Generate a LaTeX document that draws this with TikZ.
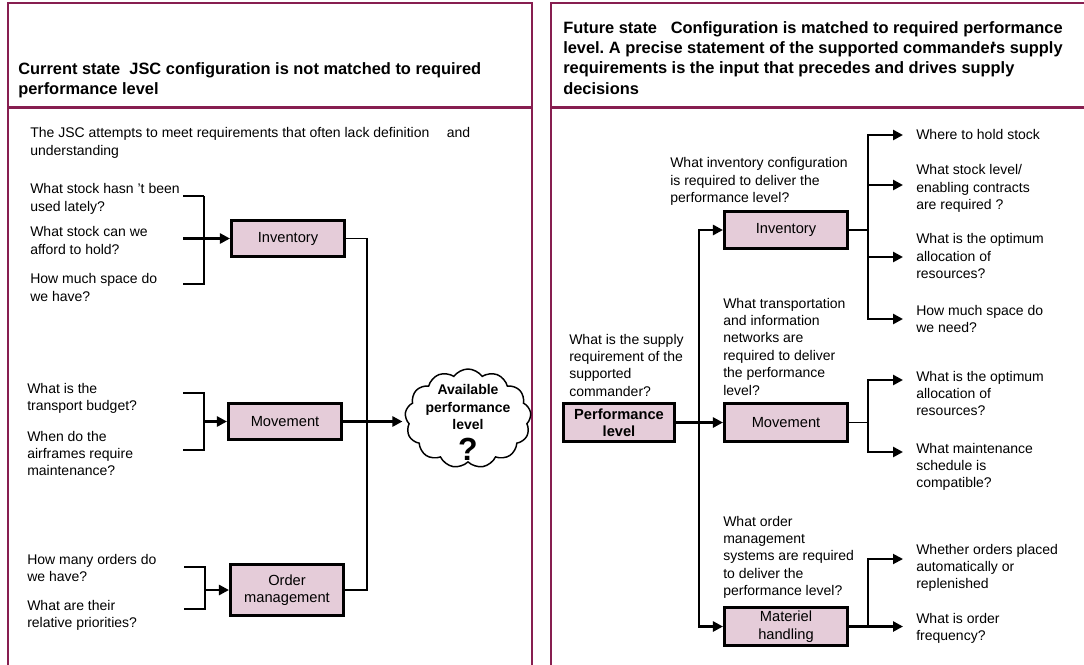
\documentclass[tikz,border=0pt]{standalone}
\usepackage{fontspec}
\setmainfont{Liberation Sans}
\usetikzlibrary{arrows.meta,shapes.symbols}
\definecolor{framecol}{RGB}{135,30,80}
\definecolor{boxfill}{RGB}{229,204,217}
\newcommand\bodyfont{\fontsize{10.5}{13.1}\selectfont}
\newcommand\boxfont{\fontsize{11}{13.1}\selectfont}
\newcommand\titlefont{\fontsize{12.3}{15.2}\selectfont\bfseries}
\frenchspacing
\begin{document}
\begin{tikzpicture}[x=0.75pt,y=-0.75pt,
  panel/.style={draw=framecol,line width=1.6pt},
  txt/.style={anchor=north west,inner sep=0pt,align=left,font=\bodyfont},
  ttl/.style={anchor=north west,inner sep=0pt,align=left,font=\titlefont},
  box/.style={draw=black,line width=2.3pt,fill=boxfill,inner sep=0pt,align=center,font=\boxfont},
  thinline/.style={line width=1.2pt},
  arr/.style={line width=2.1pt,-{Triangle[length=7.5pt,width=7.5pt]}},
]
\useasboundingbox (0,0) rectangle (1084,664);
\clip (0,0) rectangle (1084,664);
% panels
\draw[panel] (8,3) rectangle (532,700);
\draw[panel] (8,107.5) -- (532,107.5);
\draw[panel] (1100,3) -- (551,3) -- (551,700);
\draw[panel] (551,107.5) -- (1100,107.5);
% titles
\node[ttl] (ltitle) at (18,60) {\strut Current state\ \ JSC configuration is not matched to required\\performance level};
\node[ttl] (rtitle) at (563,19) {\strut Future state\ \ \ Configuration is matched to required performance\\level. A precise statement of the supported commande\makebox[0pt][l]{\hspace{1pt}'}rs supply\\requirements is the input that precedes and drives supply\\decisions};
% left texts
\node[txt] (intro) at (30,125.5) {\strut The JSC attempts to meet requirements that often lack definition\hspace{13pt}and\\understanding};
\node[txt] (q1) at (30,181.5) {\strut What stock hasn 't been\\used lately?};
\node[txt] (q2) at (30,224.5) {\strut What stock can we\\afford to hold?};
\node[txt] (q3) at (30,271.5) {\strut How much space do\\we have?};
\node[txt] (q4) at (27,380.5) {\strut What is the\\transport budget?};
\node[txt] (q5) at (27,428.5) {\strut When do the\\airframes require\\maintenance?};
\node[txt] (q6) at (27,551.5) {\strut How many orders do\\we have?};
\node[txt] (q7) at (27,597.5) {\strut What are their\\relative priorities?};
% left boxes
\node[box,minimum width={0.75*113pt},minimum height={0.75*36pt}] (inv) at (288,238.5) {Inventory};
\node[box,minimum width={0.75*113pt},minimum height={0.75*36pt}] (mov) at (285,421.5) {Movement};
\node[box,minimum width={0.75*113pt},minimum height={0.75*51pt}] (ord) at (287,590) {Order\\management};
% cloud
\node[cloud,cloud puffs=13,cloud puff arc=110,cloud ignores aspect,draw,line width=1.1pt,fill=white,
  minimum width={0.75*126pt},minimum height={0.75*99pt},inner sep=0pt] (cloud) at (468,418.5) {};
\node[align=center,inner sep=0pt,font=\fontsize{10.5}{13.1}\selectfont\bfseries] (cloudtxt) at (468,407) {Available\\performance\\level};
\node[inner sep=0pt,font=\fontsize{24}{24}\selectfont\bfseries] (qmark) at (468,449) {?};
% left brackets
\coordinate (b1a) at (183,196); \coordinate (b1b) at (204,196);
\coordinate (b1c) at (204,284); \coordinate (b1d) at (183,284);
\coordinate (b1m) at (183,238.5);
\draw[line width=2pt] (b1a) -- (b1b);
\draw[thinline] (b1b) -- (b1c) -- (b1d);
\draw[arr] (b1m) -- (inv.west);
\coordinate (b2a) at (183,393); \coordinate (b2b) at (204,393);
\coordinate (b2c) at (204,450); \coordinate (b2d) at (183,450);
\coordinate (b2m) at (204,421.5);
\draw[thinline] (b2a) -- (b2b) -- (b2c) -- (b2d);
\draw[arr] (b2m) -- (mov.west);
\coordinate (b3a) at (184,567); \coordinate (b3b) at (205,567);
\coordinate (b3c) at (205,609); \coordinate (b3d) at (184,609);
\coordinate (b3m) at (205,590);
\draw[thinline] (b3a) -- (b3b) -- (b3c) -- (b3d);
\draw[arr] (b3m) -- (ord.west);
% left collector
\coordinate (lvt) at (367,238.5); \coordinate (lvb) at (367,590);
\draw[thinline] (inv.east) -- (lvt) -- (lvb) -- (ord.east);
\coordinate (cin) at (cloud.west |- mov.east);
\draw[arr,shorten >=2pt] (mov.east) -- (cin);
% right texts
\node[txt] (rinvq) at (670,155.5) {\strut What inventory configuration\\is required to deliver the\\performance level?};
\node[txt] (rmovq) at (723,295.5) {\strut What transportation\\and information\\networks are\\required to deliver\\the performance\\level?};
\node[txt] (rsup) at (569,331.5) {\strut What is the supply\\requirement of the\\supported\\commander?};
\node[txt] (rordq) at (723,513.5) {\strut What order\\management\\systems are required\\to deliver the\\performance level?};
\node[txt] (r1) at (916,127.5) {\strut Where to hold stock};
\node[txt] (r2) at (916,162.5) {\strut What stock level/\\enabling contracts\\are required ?};
\node[txt] (r3) at (916,231.5) {\strut What is the optimum\\allocation of\\resources?};
\node[txt] (r4) at (916,302.5) {\strut How much space do\\we need?};
\node[txt] (r5) at (916,368.5) {\strut What is the optimum\\allocation of\\resources?};
\node[txt] (r6) at (916,440.5) {\strut What maintenance\\schedule is\\compatible?};
\node[txt] (r7) at (916,541.5) {\strut Whether orders placed\\automatically or\\replenished};
\node[txt] (r8) at (916,610.5) {\strut What is order\\frequency?};
% right boxes
\node[box,minimum width={0.75*111pt},minimum height={0.75*38pt},font=\boxfont\bfseries] (perf) at (619,422.5) {Performance\\level};
\node[box,minimum width={0.75*123pt},minimum height={0.75*37pt}] (rinv) at (786,230) {Inventory};
\node[box,minimum width={0.75*123pt},minimum height={0.75*38pt}] (rmov) at (786,422.5) {Movement};
\node[box,minimum width={0.75*123pt},minimum height={0.75*38pt}] (rmat) at (786,626.5) {Materiel\\handling};
% trunk
\coordinate (tT) at (699,230); \coordinate (tB) at (699,626.5);
\draw[arr] (tB) |- (rinv.west);
\draw[arr] (tT) |- (rmat.west);
\draw[arr] (perf.east) -- (rmov.west);
% inventory branch
\coordinate (ib) at (868,230);
\coordinate (ia1) at (903,135); \coordinate (ia2) at (903,185);
\coordinate (ia3) at (903,257); \coordinate (ia4) at (903,319);
\draw[thinline] (rinv.east) -- (ib);
\draw[arr] (ib) |- (ia1);
\draw[arr] (ib) |- (ia2);
\draw[arr] (ib) |- (ia3);
\draw[arr] (ib) |- (ia4);
% movement branch
\coordinate (mb) at (868,422.5);
\coordinate (ma1) at (903,380); \coordinate (ma2) at (903,452);
\draw[thinline] (rmov.east) -- (mb);
\draw[arr] (mb) |- (ma1);
\draw[arr] (mb) |- (ma2);
% materiel branch
\coordinate (hb) at (868,626.5);
\coordinate (ha1) at (903,559); \coordinate (ha2) at (903,626.5);
\draw[arr] (rmat.east) -- (ha2);
\draw[arr,line width=1.4pt] (hb) |- (ha1);
\end{tikzpicture}
\end{document}
